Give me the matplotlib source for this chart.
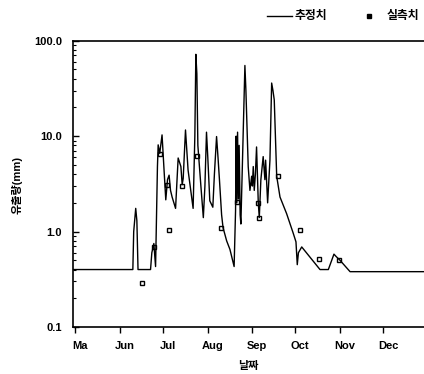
import matplotlib
matplotlib.use("Agg")
import matplotlib.pyplot as plt
from matplotlib.ticker import LogLocator, NullFormatter, FixedLocator

plt.rcParams['font.family'] = ['Liberation Sans', 'Noto Sans CJK KR']

# days counted from May 1 (0 = May 1)
est_day = [-1, 40.1, 40.7, 42.1, 42.9, 43.7, 52.4, 53.3, 54.7, 55.9, 57.2, 57.7, 58.8,
           60.4, 61.8, 63.0, 64.2, 65.3, 66.3, 67.4, 69.8, 71.6, 73.5, 74.4, 75.1,
           76.7, 78.5, 82.0, 83.2, 83.9, 84.6, 85.3, 87.4, 89.1, 90.2, 91.3, 92.2,
           93.6, 95.7, 96.8, 98.3, 99.3, 100.3, 101.8, 102.8, 105.3, 107.6, 110.5,
           111.5, 111.9, 112.4, 112.9, 113.5, 114.0, 114.7, 115.2, 118.0, 118.7,
           120.3, 121.5, 122.7, 123.2, 123.8, 124.5, 125.3, 126.1, 127.3, 128.0,
           129.1, 130.7, 131.9, 132.4, 133.8, 135.4, 136.6, 137.5, 138.4, 140.1,
           142.4, 147.0, 151.6, 153.5, 154.4, 155.2, 157.5, 170.2, 176.0, 179.9,
           181.3, 184.1, 191.1, 243]
est_val = [0.4, 0.4, 1.0, 1.75, 1.3, 0.4, 0.4, 0.6, 0.75, 0.43, 4.8, 8.1, 6.6,
           10.3, 4.4, 2.15, 3.5, 3.9, 2.7, 2.3, 1.75, 5.9, 4.8, 3.1, 3.6,
           11.6, 4.4, 1.75, 10, 72, 45, 8, 3, 1.4, 3, 11, 6,
           2.1, 1.8, 4, 9.9, 6, 3.5, 1.5, 1.1, 0.8, 0.65, 0.43,
           1.65, 10, 2.0, 11, 2.2, 8, 1.5, 1.2, 55, 30,
           4.8, 2.7, 3.8, 3.0, 4.8, 2.7, 4.0, 7.7, 2.0, 1.4,
           3.5, 6.1, 3.5, 5.6, 2.0, 5.6, 36, 30, 24, 3.8,
           2.3, 1.54, 0.96, 0.78, 0.45, 0.6, 0.69, 0.4, 0.4, 0.58,
           0.55, 0.5, 0.38, 0.38]

obs_day = [46.8, 54.7, 58.8, 64.1, 65.1, 74.6, 84.8, 101.6, 112.6, 127.3, 128.1,
           141.2, 156.3, 169.3, 183.6]
obs_val = [0.29, 0.69, 6.5, 3.1, 1.05, 3.0, 6.2, 1.1, 2.05, 2.0, 1.38,
           3.8, 1.03, 0.52, 0.5]

month_start = [0, 31, 61, 92, 123, 153, 184, 214]
month_names = ['Ma', 'Jun', 'Jul', 'Aug', 'Sep', 'Oct', 'Nov', 'Dec']

fig = plt.figure(figsize=(4.24, 3.74), dpi=100)
ax = fig.add_axes([73 / 424, 1 - 327 / 374, 351 / 424, (327 - 40.7) / 374])

ax.plot(est_day, est_val, color='black', lw=1.0)
ax.plot(obs_day, obs_val, ls='none', marker='s', ms=3.2, mfc='none',
        mec='black', mew=1.0)

ax.set_yscale('log')
ax.set_ylim(0.1, 100)
ax.set_xlim(-1.5, 242.5)

ax.set_yticks([0.1, 1, 10, 100])
ax.set_yticklabels(['0.1', '1.0', '10.0', '100.0'], fontsize=8, fontweight='bold')
ax.yaxis.set_minor_locator(LogLocator(base=10, subs=range(2, 10)))
ax.yaxis.set_minor_formatter(NullFormatter())
ax.tick_params(axis='y', which='major', direction='in', length=4, width=1, pad=8)
ax.tick_params(axis='y', which='minor', direction='in', length=2, width=0.8)

ax.set_xticks(month_start)
ax.set_xticklabels([])
ax.xaxis.set_minor_locator(FixedLocator([d + 3.5 for d in month_start]))
ax.set_xticklabels(month_names, minor=True, fontsize=8, fontweight='bold')
ax.tick_params(axis='x', which='major', direction='out', length=4, width=1)
ax.tick_params(axis='x', which='minor', length=0, pad=10)

ax.spines['right'].set_visible(False)
for s in ['top', 'bottom', 'left']:
    ax.spines[s].set_linewidth(1.2)

ax.set_xlabel('날짜', fontsize=8, fontweight='bold', labelpad=7)
fig.text(17 / 424, 1 - 185 / 374, '유출량(mm)', rotation=90, fontsize=8,
         fontweight='bold', ha='center', va='center')

# legend drawn by hand at the top right
fig.lines.append(plt.Line2D([267 / 424, 292 / 424], [1 - 16 / 374] * 2,
                            color='black', lw=1.0, transform=fig.transFigure))
fig.text(295 / 424, 1 - 16 / 374, '추정치', fontsize=8.5, fontweight='bold',
         va='center', ha='left')
fig.lines.append(plt.Line2D([369 / 424], [1 - 16 / 374], ls='none', marker='s',
                            ms=3, mfc='black', mec='black',
                            transform=fig.transFigure))
fig.text(387 / 424, 1 - 16 / 374, '실측치', fontsize=8.5, fontweight='bold',
         va='center', ha='left')

fig.savefig('out.png', dpi=100)
